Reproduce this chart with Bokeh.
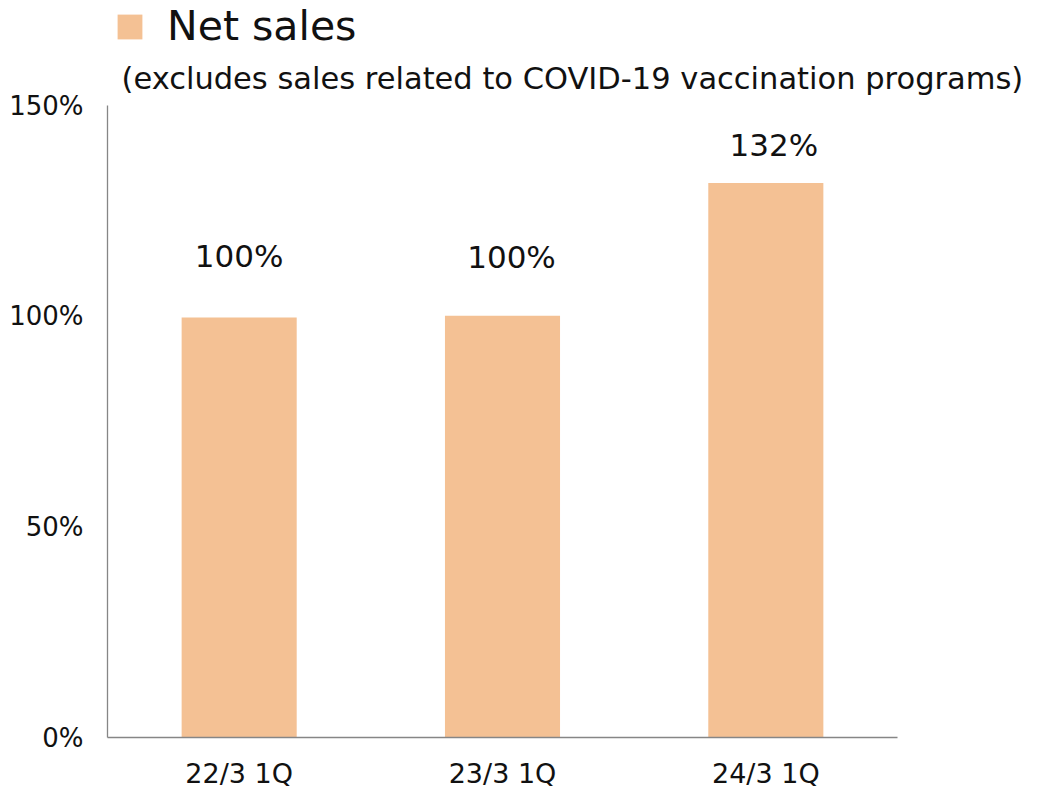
from bokeh.plotting import figure
from bokeh.models import (ColumnDataSource, Label, FixedTicker, Range1d, Legend, LegendItem,
                          CustomJSTickFormatter)
from bokeh.core.properties import value
from bokeh.embed import file_html
from bokeh.resources import INLINE

categories = ["22/3 1Q", "23/3 1Q", "24/3 1Q"]
net_sales_pct = [99.7, 100.1, 131.6]
bar_labels = ["100%", "100%", "132%"]
y_ticks = [0, 50, 100, 150]

# style: pixel offsets of the value labels relative to each bar top
label_dx = [0, 9, 8]
label_dy = [-61, -59, -38]

FONT = "DejaVu Sans"
BAR = "#F4C194"
AXIS = "#868686"
TXT = "#111111"

positions = list(range(len(categories)))
src = ColumnDataSource(dict(x=positions, val=net_sales_pct, lab=bar_labels, dx=label_dx, dy=label_dy))

PX_PER_CAT = 263.33
PX_PER_PCT = 632 / 150
FRAME_W = 928
FRAME_H = 737

p = figure(x_range=Range1d(-0.5, -0.5 + FRAME_W / PX_PER_CAT),
           y_range=Range1d(0, FRAME_H / PX_PER_PCT),
           frame_width=FRAME_W, frame_height=FRAME_H, output_backend="svg", toolbar_location=None,
           min_border_left=107, min_border_top=0, min_border_right=0, min_border_bottom=48)
p.outline_line_color = None
p.background_fill_color = "white"
p.border_fill_color = "white"
p.grid.visible = False

bars = p.vbar(x="x", top="val", width=0.437, source=src, fill_color=BAR, line_color=None)
p.text(x="x", y="val", text="lab", source=src, x_offset="dx", y_offset="dy", text_align="center",
       text_baseline="alphabetic", text_font=value(FONT), text_font_size="31px", text_color=TXT)

p.yaxis.ticker = FixedTicker(ticks=y_ticks)
p.yaxis.formatter = CustomJSTickFormatter(code="return tick + '%'")
p.yaxis.bounds = (0, max(y_ticks))
p.xaxis.ticker = FixedTicker(ticks=positions)
p.xaxis.major_label_overrides = {i: c for i, c in zip(positions, categories)}
p.xaxis.bounds = (-0.5, len(categories) - 0.5)
for ax in (p.xaxis, p.yaxis):
    ax.axis_line_color = AXIS
    ax.axis_line_width = 1.3
    ax.major_tick_line_color = None
    ax.minor_tick_line_color = None
    ax.major_label_text_font = FONT
    ax.major_label_text_color = TXT
p.yaxis.major_label_text_font_size = "26px"
p.xaxis.major_label_text_font_size = "27px"
p.yaxis.major_label_standoff = 18
p.xaxis.major_label_standoff = 14

legend = Legend(items=[LegendItem(label="Net sales", renderers=[bars])],
                location=(7, 687), orientation="horizontal",
                glyph_width=31, glyph_height=31, label_standoff=22,
                label_text_font=FONT, label_text_font_size="41px", label_text_color=TXT,
                padding=0, margin=0, border_line_color=None, background_fill_alpha=0)
p.add_layout(legend)

p.add_layout(Label(x=14, y=659, x_units="screen", y_units="screen",
                   text="(excludes sales related to COVID-19 vaccination programs)",
                   text_font=FONT, text_font_size="30.5px", text_color=TXT,
                   text_baseline="alphabetic"))

open("out.html", "w").write(file_html(p, INLINE))
